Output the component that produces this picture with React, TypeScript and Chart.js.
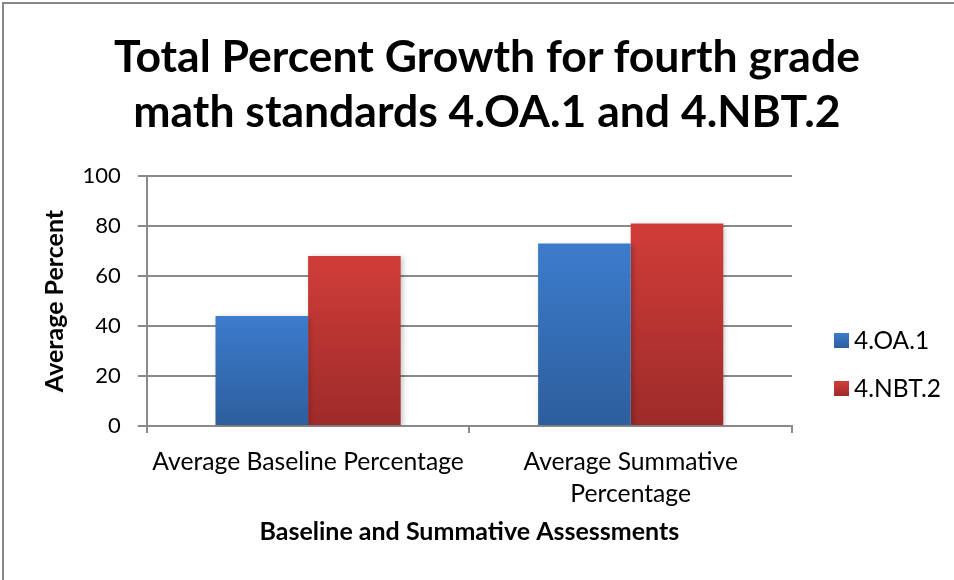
import React, { useEffect, useRef } from "react";
import { Chart, registerables } from "chart.js";

Chart.register(...registerables);

const chartTitle = ["Total Percent Growth for fourth grade", "math standards 4.OA.1 and 4.NBT.2"];
const categories: (string | string[])[] = ["Average Baseline Percentage", ["Average Summative", "Percentage"]];
const seriesNames = ["4.OA.1", "4.NBT.2"];
const oa1Values = [44, 73];
const nbt2Values = [68, 81];
const yTickValues = [0, 20, 40, 60, 80, 100];
const yAxisTitle = "Average Percent";
const xAxisTitle = "Baseline and Summative Assessments";

const FONT = "Lato, 'Open Sans', sans-serif";
const GRID = "#8a8a8a";
const seriesColors = [
  ["#3c7ccc", "#2d5e9c"],
  ["#d03d39", "#9d2b29"],
];

function barGradient(top: string, bottom: string) {
  return (ctx: any) => {
    const chart = ctx.chart;
    const yScale = chart.scales && chart.scales.y;
    if (!yScale || ctx.type !== "data") return top;
    const v = ctx.raw as number;
    const y0 = yScale.getPixelForValue(v);
    const y1 = yScale.getPixelForValue(0);
    if (!isFinite(y0) || !isFinite(y1) || y0 === y1) return top;
    const g = chart.ctx.createLinearGradient(0, y0, 0, y1);
    g.addColorStop(0, top);
    g.addColorStop(1, bottom);
    return g;
  };
}

const shadowPlugin = {
  id: "barShadow",
  beforeDatasetsDraw(chart: any) {
    const c = chart.ctx;
    c.save();
    c.shadowColor = "rgba(0,0,0,0.22)";
    c.shadowBlur = 5;
    c.shadowOffsetX = 2;
    c.shadowOffsetY = 1;
  },
  afterDatasetsDraw(chart: any) {
    chart.ctx.restore();
  },
};

const legendPlugin = {
  id: "sideLegend",
  afterDraw(chart: any) {
    const c = chart.ctx;
    const area = chart.chartArea;
    c.save();
    const size = 15;
    chart.data.datasets.forEach((ds: any, i: number) => {
      const bx = area.right + 42;
      const by = 333 + i * 48;
      const [top, bottom] = seriesColors[i];
      const g = c.createLinearGradient(0, by, 0, by + size);
      g.addColorStop(0, top);
      g.addColorStop(1, bottom);
      c.fillStyle = g;
      c.fillRect(bx, by, size, size);
      c.fillStyle = "#000";
      c.font = `24.5px ${FONT}`;
      c.textBaseline = "alphabetic";
      c.textAlign = "left";
      c.fillText(ds.label, bx + size + 5, by + 16);
    });
    c.restore();
  },
};

export default function App() {
  const ref = useRef<HTMLCanvasElement | null>(null);

  useEffect(() => {
    if (!ref.current) return;
    Chart.defaults.font.family = FONT;
    const chart = new Chart(ref.current, {
      type: "bar",
      data: {
        labels: categories as any,
        datasets: [
          {
            label: seriesNames[0],
            data: oa1Values,
            backgroundColor: barGradient(seriesColors[0][0], seriesColors[0][1]) as any,
            categoryPercentage: 0.574,
            barPercentage: 1,
            borderWidth: 0,
          },
          {
            label: seriesNames[1],
            data: nbt2Values,
            backgroundColor: barGradient(seriesColors[1][0], seriesColors[1][1]) as any,
            categoryPercentage: 0.574,
            barPercentage: 1,
            borderWidth: 0,
          },
        ],
      },
      options: {
        responsive: false,
        animation: false,
        devicePixelRatio: 1,
        layout: { padding: { left: 39, right: 162, top: 176, bottom: 33 } },
        plugins: {
          legend: { display: false },
          tooltip: { enabled: false },
          title: { display: false },
        },
        scales: {
          x: {
            grid: {
              display: true,
              drawOnChartArea: false,
              drawTicks: true,
              tickLength: 7,
              color: GRID,
              lineWidth: 2,
              offset: true,
            },
            border: { display: true, color: GRID, width: 2 },
            ticks: {
              color: "#000",
              font: { family: FONT, size: 24.7, lineHeight: 32 / 24.7 },
              padding: 13,
              maxRotation: 0,
              autoSkip: false,
            },
            title: {
              display: true,
              text: xAxisTitle,
              color: "#000",
              font: { family: FONT, size: 25, weight: "bold", lineHeight: 1.2 },
              padding: { top: -6, bottom: 0 },
            },
          },
          y: {
            min: 0,
            max: 100,
            afterBuildTicks: (s: any) => {
              s.ticks = yTickValues.map((v) => ({ value: v }));
            },
            grid: { color: GRID, lineWidth: 2, tickLength: 9, drawTicks: true },
            border: { display: true, color: GRID, width: 2 },
            ticks: { color: "#000", font: { family: FONT, size: 22 }, padding: 17 },
            title: {
              display: true,
              text: yAxisTitle,
              color: "#000",
              font: { family: FONT, size: 25, weight: "bold", lineHeight: 1.1 },
              padding: { top: 2, bottom: -3 },
            },
          },
        },
      },
      plugins: [shadowPlugin, legendPlugin],
    });
    return () => chart.destroy();
  }, []);

  return (
    <div
      style={{
        position: "fixed",
        left: 0,
        top: 0,
        width: 954,
        height: 580,
        background: "#fff",
        overflow: "hidden",
      }}
    >
      <div
        style={{
          position: "absolute",
          left: 2,
          top: 2,
          width: 1000,
          height: 1000,
          borderTop: "2px solid #878787",
          borderLeft: "2px solid #878787",
          boxSizing: "border-box",
        }}
      />
      <canvas
        ref={ref}
        width={954}
        height={580}
        style={{ position: "absolute", left: 0, top: 0, width: 954, height: 580 }}
      />
      <div
        style={{
          position: "absolute",
          left: 10,
          top: 27,
          width: 954,
          textAlign: "center",
          fontFamily: FONT,
          fontWeight: "bold",
          fontSize: 44.5,
          lineHeight: "55px",
          color: "#000",
        }}
      >
        {chartTitle.map((line, i) => (
          <div key={i}>{line}</div>
        ))}
      </div>
    </div>
  );
}
